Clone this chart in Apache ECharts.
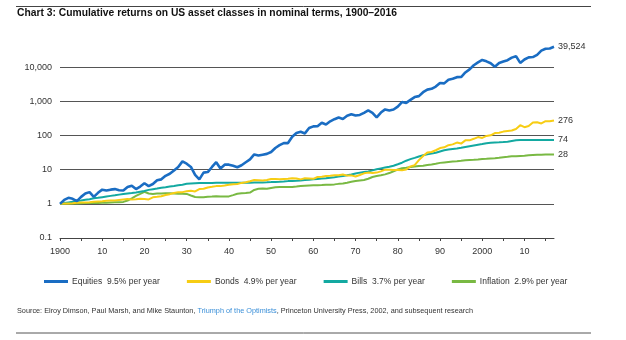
<!DOCTYPE html>
<html>
<head>
<meta charset="utf-8">
<script src="https://cdn.jsdelivr.net/npm/echarts@6/dist/echarts.min.js"></script>
<style>
  html, body { margin: 0; padding: 0; background: #fff; }
  #chart { width: 626px; height: 340px; }
</style>
</head>
<body>
<div id="chart"></div>
<script>
// ---------------- data ----------------
var startYear = 1900; // point i = value at start of year (startYear + i)
var seriesNames = ['Equities', 'Bonds', 'Bills', 'Inflation'];
var annualRates = ['9.5%', '4.9%', '3.7%', '2.9%'];

var equities = [
  1, 1.3, 1.5, 1.4, 1.2, 1.6, 2.0, 2.2, 1.6, 2.1,
  2.6, 2.45, 2.6, 2.7, 2.5, 2.45, 3.1, 3.4, 2.7, 3.2,
  4.0, 3.3, 3.8, 4.9, 5.2, 6.6, 7.6, 9.5, 12, 17.5,
  15, 12, 7, 5.2, 8.2, 8.5, 12, 16.5, 10.8, 14,
  14, 13, 11.8, 13.5, 16.5, 20, 28, 26, 27.5, 29,
  33, 43, 52, 60, 60, 92, 118, 128, 115, 165,
  185, 186, 235, 210, 260, 300, 335, 305, 380, 420,
  385, 400, 460, 540, 460, 340, 470, 580, 540, 575,
  700, 950, 900, 1100, 1330, 1420, 1850, 2200, 2320, 2700,
  3450, 3350, 4300, 4600, 5100, 5150, 7000, 8600, 11400, 13800,
  16300, 14800, 13000, 10300, 13200, 14600, 16000, 19000, 21000, 13300,
  16800, 19400, 19800, 23000, 30500, 34700, 35200, 39524
];
var bonds = [
  1.00, 1.02, 1.03, 1.04, 1.07, 1.09, 1.10, 1.11, 1.15, 1.17,
  1.19, 1.23, 1.25, 1.26, 1.30, 1.34, 1.38, 1.33, 1.36, 1.40,
  1.38, 1.35, 1.55, 1.60, 1.67, 1.82, 1.92, 2.07, 2.20, 2.20,
  2.32, 2.43, 2.30, 2.70, 2.75, 3.00, 3.14, 3.30, 3.30, 3.44,
  3.60, 3.77, 3.80, 4.10, 4.30, 4.60, 5.00, 4.90, 4.80, 5.00,
  5.30, 5.30, 5.20, 5.30, 5.40, 5.60, 5.50, 5.20, 5.60, 5.50,
  5.40, 6.10, 6.20, 6.50, 6.60, 6.90, 6.90, 7.20, 6.70, 6.80,
  6.30, 7.00, 7.80, 8.20, 8.00, 8.20, 8.90, 10.0, 10.0, 9.70,
  9.80, 9.60, 10.1, 12.5, 13.5, 19.0, 25.0, 32.0, 33.0, 37.0,
  43.0, 45.0, 52.0, 55.0, 62.0, 58.0, 72.0, 72.0, 80.0, 90.0,
  85.0, 97.0, 101, 118, 121, 130, 136, 140, 155, 200,
  175, 190, 240, 245, 225, 262, 260, 276
];
var bills = [
  1.00, 1.05, 1.10, 1.15, 1.20, 1.25, 1.31, 1.37, 1.45, 1.50,
  1.57, 1.64, 1.71, 1.78, 1.86, 1.93, 2.00, 2.07, 2.16, 2.27,
  2.38, 2.56, 2.68, 2.80, 2.95, 3.07, 3.20, 3.33, 3.48, 3.62,
  3.85, 3.95, 4.03, 4.07, 4.08, 4.09, 4.10, 4.11, 4.12, 4.12,
  4.12, 4.12, 4.13, 4.14, 4.16, 4.17, 4.19, 4.21, 4.23, 4.27,
  4.32, 4.38, 4.45, 4.53, 4.62, 4.65, 4.73, 4.85, 5.00, 5.08,
  5.23, 5.37, 5.49, 5.64, 5.82, 6.02, 6.26, 6.56, 6.84, 7.20,
  7.68, 8.18, 8.54, 8.88, 9.52, 10.3, 10.9, 11.5, 12.1, 13.0,
  14.4, 16.0, 18.3, 20.3, 22.2, 24.4, 26.3, 28.0, 29.5, 31.4,
  34.2, 36.8, 38.9, 40.3, 41.6, 43.8, 46.2, 48.6, 51.1, 53.6,
  56.1, 59.5, 61.6, 62.6, 63.3, 64.1, 66.1, 69.3, 72.4, 73.4,
  73.5, 73.6, 73.7, 73.7, 73.8, 73.8, 73.8, 74
];
var inflation = [
  1.00, 1.01, 1.02, 1.03, 1.03, 1.04, 1.05, 1.06, 1.05, 1.06,
  1.08, 1.08, 1.10, 1.11, 1.12, 1.14, 1.25, 1.45, 1.70, 1.95,
  2.25, 2.00, 1.95, 2.00, 2.02, 2.05, 2.05, 2.00, 1.98, 1.96,
  1.95, 1.75, 1.58, 1.55, 1.56, 1.60, 1.63, 1.67, 1.63, 1.63,
  1.65, 1.80, 1.97, 2.03, 2.08, 2.14, 2.55, 2.75, 2.80, 2.75,
  2.92, 3.05, 3.10, 3.12, 3.10, 3.12, 3.21, 3.31, 3.37, 3.42,
  3.47, 3.50, 3.54, 3.60, 3.64, 3.71, 3.84, 3.95, 4.14, 4.40,
  4.64, 4.80, 4.97, 5.41, 6.08, 6.51, 6.84, 7.29, 7.95, 8.98,
  10.1, 11.0, 11.4, 11.9, 12.4, 12.9, 13.0, 13.6, 14.2, 14.9,
  15.8, 16.3, 16.8, 17.3, 17.7, 18.2, 18.8, 19.1, 19.4, 19.9,
  20.5, 20.8, 21.3, 21.7, 22.4, 23.2, 23.7, 24.6, 24.6, 25.3,
  25.6, 26.4, 26.9, 27.3, 27.5, 27.7, 27.9, 28
];

var xTickYears = [1900, 1905, 1910, 1915, 1920, 1925, 1930, 1935, 1940, 1945, 1950, 1955,
  1960, 1965, 1970, 1975, 1980, 1985, 1990, 1995, 2000, 2005, 2010, 2015];
var xLabelYears = [1900, 1910, 1920, 1930, 1940, 1950, 1960, 1970, 1980, 1990, 2000, 2010];
var yTickValues = [0.1, 1, 10, 100, 1000, 10000];

var titleText = 'Chart 3: Cumulative returns on US asset classes in nominal terms, 1900\u20132016';
var sourcePre = 'Source: Elroy Dimson, Paul Marsh, and Mike Staunton, ';
var sourceBook = 'Triumph of the Optimists';
var sourcePost = ', Princeton University Press, 2002, and subsequent research';

// ---------------- chart ----------------
var colors = ['#1a6dc3', '#f7cd14', '#13a9a1', '#79b943'];
var widths = [2.6, 2, 2, 2];
var allValues = [equities, bonds, bills, inflation];

function toPairs(arr) {
  var out = [];
  for (var i = 0; i < arr.length; i++) out.push([startYear + i, arr[i]]);
  return out;
}

var FONT = '"Liberation Sans", Arial, sans-serif';
var chart = echarts.init(document.getElementById('chart'), null, { renderer: 'canvas' });

var series = seriesNames.map(function (name, k) {
  return {
    name: name,
    type: 'line',
    data: toPairs(allValues[k]),
    showSymbol: false,
    symbol: 'none',
    smooth: false,
    lineStyle: { color: colors[k], width: widths[k] },
    itemStyle: { color: colors[k] },
    emphasis: { disabled: true },
    animation: false,
    z: 10 - k,
    endLabel: {
      show: true,
      distance: 4,
      color: '#333',
      fontSize: 9,
      fontFamily: FONT,
      formatter: function (p) { return Number(p.value[1]).toLocaleString('en-US'); }
    }
  };
});

var option = {
  animation: false,
  backgroundColor: '#fff',
  textStyle: { fontFamily: FONT },
  grid: { left: 60, right: 72, top: 33, bottom: 102, containLabel: false, outerBoundsMode: 'none' },
  legend: {
    data: seriesNames,
    left: 44,
    top: 277,
    itemGap: 27,
    itemWidth: 24,
    itemHeight: 3,
    icon: 'rect',
    padding: 0,
    textStyle: { fontSize: 8.5, color: '#333', fontFamily: FONT, padding: [0, 0, 0, -1] },
    formatter: function (name) {
      var k = seriesNames.indexOf(name);
      return name + '  ' + annualRates[k] + ' per year';
    },
    selectedMode: false
  },
  xAxis: {
    type: 'value',
    min: 1900,
    max: 2017,
    axisLine: { onZero: false, lineStyle: { color: '#444', width: 1 } },
    axisTick: { show: true, customValues: xTickYears, length: 3, lineStyle: { color: '#444' } },
    axisLabel: {
      customValues: xLabelYears,
      color: '#333',
      fontSize: 9,
      margin: 9,
      formatter: function (v) {
        return (v % 100 === 0) ? String(v) : String(v % 100);
      }
    },
    splitLine: { show: false }
  },
  yAxis: {
    type: 'log',
    logBase: 10,
    min: 0.1,
    max: 100000,
    axisLine: { show: false },
    axisTick: { show: false },
    axisLabel: {
      customValues: yTickValues,
      color: '#333',
      fontSize: 9,
      margin: 8,
      formatter: function (v) {
        var n = Number(Number(v).toPrecision(6));
        return n >= 1 ? n.toLocaleString('en-US') : String(n);
      }
    },
    splitLine: { show: true, showMinLine: false, showMaxLine: false, lineStyle: { color: '#555', width: 1 } }
  },
  graphic: [
    { type: 'line', shape: { x1: 16, y1: 6.5, x2: 591, y2: 6.5 }, style: { stroke: '#444', lineWidth: 1 } },
    { type: 'text', x: 17, y: 13.5, style: { text: titleText, font: 'bold 10.3px ' + FONT, fill: '#111', verticalAlign: 'middle' } },
    {
      type: 'text', x: 17, y: 310.5,
      style: {
        text: '{a|' + sourcePre + '}{b|' + sourceBook + '}{a|' + sourcePost + '}',
        verticalAlign: 'middle',
        rich: {
          a: { fontSize: 7.3, fontFamily: FONT, fill: '#333', color: '#333' },
          b: { fontSize: 7.3, fontFamily: FONT, fill: '#3a8fd8', color: '#3a8fd8' }
        }
      }
    },
    { type: 'line', shape: { x1: 16, y1: 333, x2: 591, y2: 333 }, style: { stroke: '#555', lineWidth: 1 } }
  ],
  series: series
};
chart.setOption(option);
</script>
</body>
</html>
